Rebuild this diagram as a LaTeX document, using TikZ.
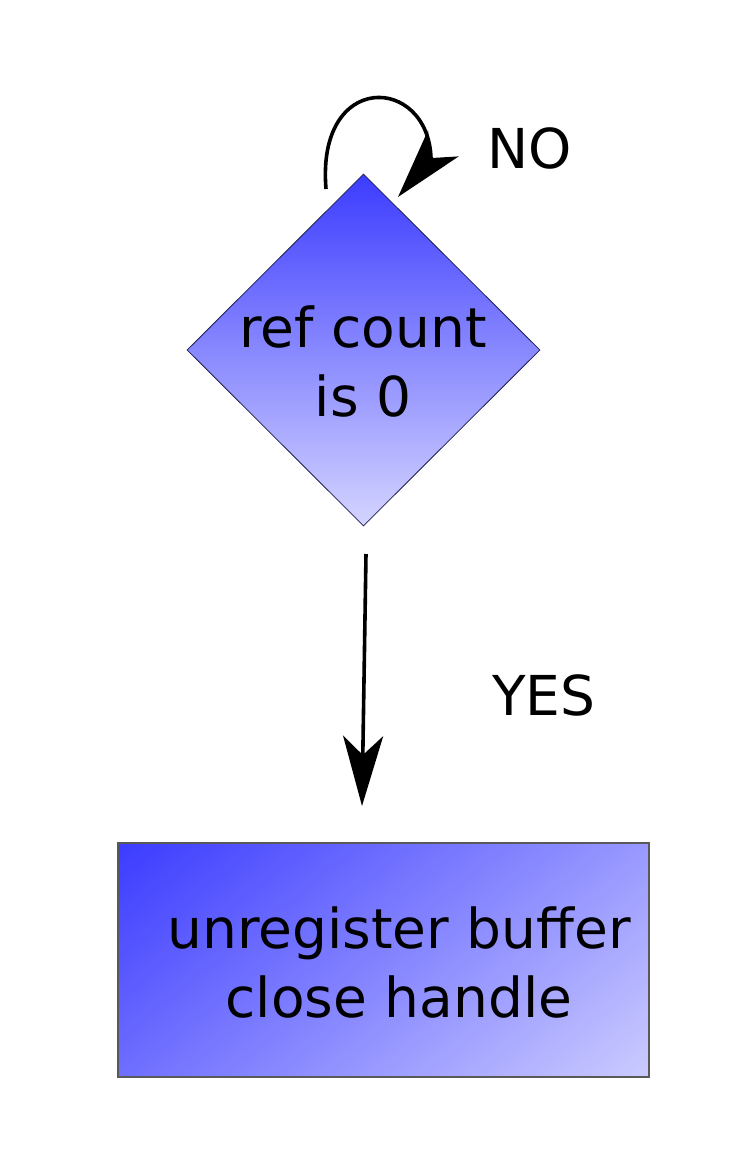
\documentclass[tikz,border=0pt]{standalone}
\usepackage{fontspec}
\setmainfont{DejaVu Sans}
\usetikzlibrary{shapes.geometric,arrows.meta}
\definecolor{darkblue}{RGB}{60,60,255}
\definecolor{lightblue}{RGB}{212,212,255}
\definecolor{boxlight}{RGB}{228,228,255}
\definecolor{edgenavy}{RGB}{30,30,80}
\pgfdeclareverticalshading{boxshade}{100bp}{color(0bp)=(boxlight); color(31.93bp)=(boxlight); color(68.07bp)=(darkblue); color(100bp)=(darkblue)}
\tikzset{
  bigtext/.style={font=\fontsize{55}{69}\selectfont, inner sep=0pt, align=center},
  decision/.style={diamond, draw=edgenavy, line width=0.8pt, inner sep=0pt,
    minimum width=353pt, minimum height=352pt, aspect=1,
    top color=darkblue, bottom color=lightblue},
  actionbox/.style={rectangle, draw=black!65, line width=1.2pt, inner sep=0pt,
    minimum width=531pt, minimum height=234pt},
  flow/.style={line width=3.6pt, -{Stealth[length=70pt, width=40pt, inset=19pt]}},
}
\begin{document}
\begin{tikzpicture}[x=1pt,y=-1pt]
\useasboundingbox (0,0) rectangle (744,1156);
\fill[white] (0,0) rectangle (744,1156);
\node[decision] (d) at (363.5,350) {};
\node[bigtext, anchor=base] (dtext) at (363,416) {ref count\\is 0};
\begin{scope}
  \clip (118,843) rectangle (649,1077);
  \shade[shading=boxshade, shading angle=39] (-111,659) rectangle (729,1499);
\end{scope}
\node[actionbox] (box) at (383.5,960) {};
\node[bigtext, anchor=base] (btext) at (399,1017) {unregister buffer\\close handle};
\node[bigtext, anchor=base west] (no) at (487,168) {NO};
\node[bigtext, anchor=base west] (yes) at (492,715) {YES};
\coordinate (loopstart) at (326,189);
\coordinate (looptip) at (398,197);
\coordinate (downstart) at (366,554);
\coordinate (downtip) at (362,806);
\draw[flow] (loopstart) .. controls (316,70) and (428,75) .. (431,158) -- (looptip);
\draw[flow] (downstart) -- (downtip);
\end{tikzpicture}
\end{document}
